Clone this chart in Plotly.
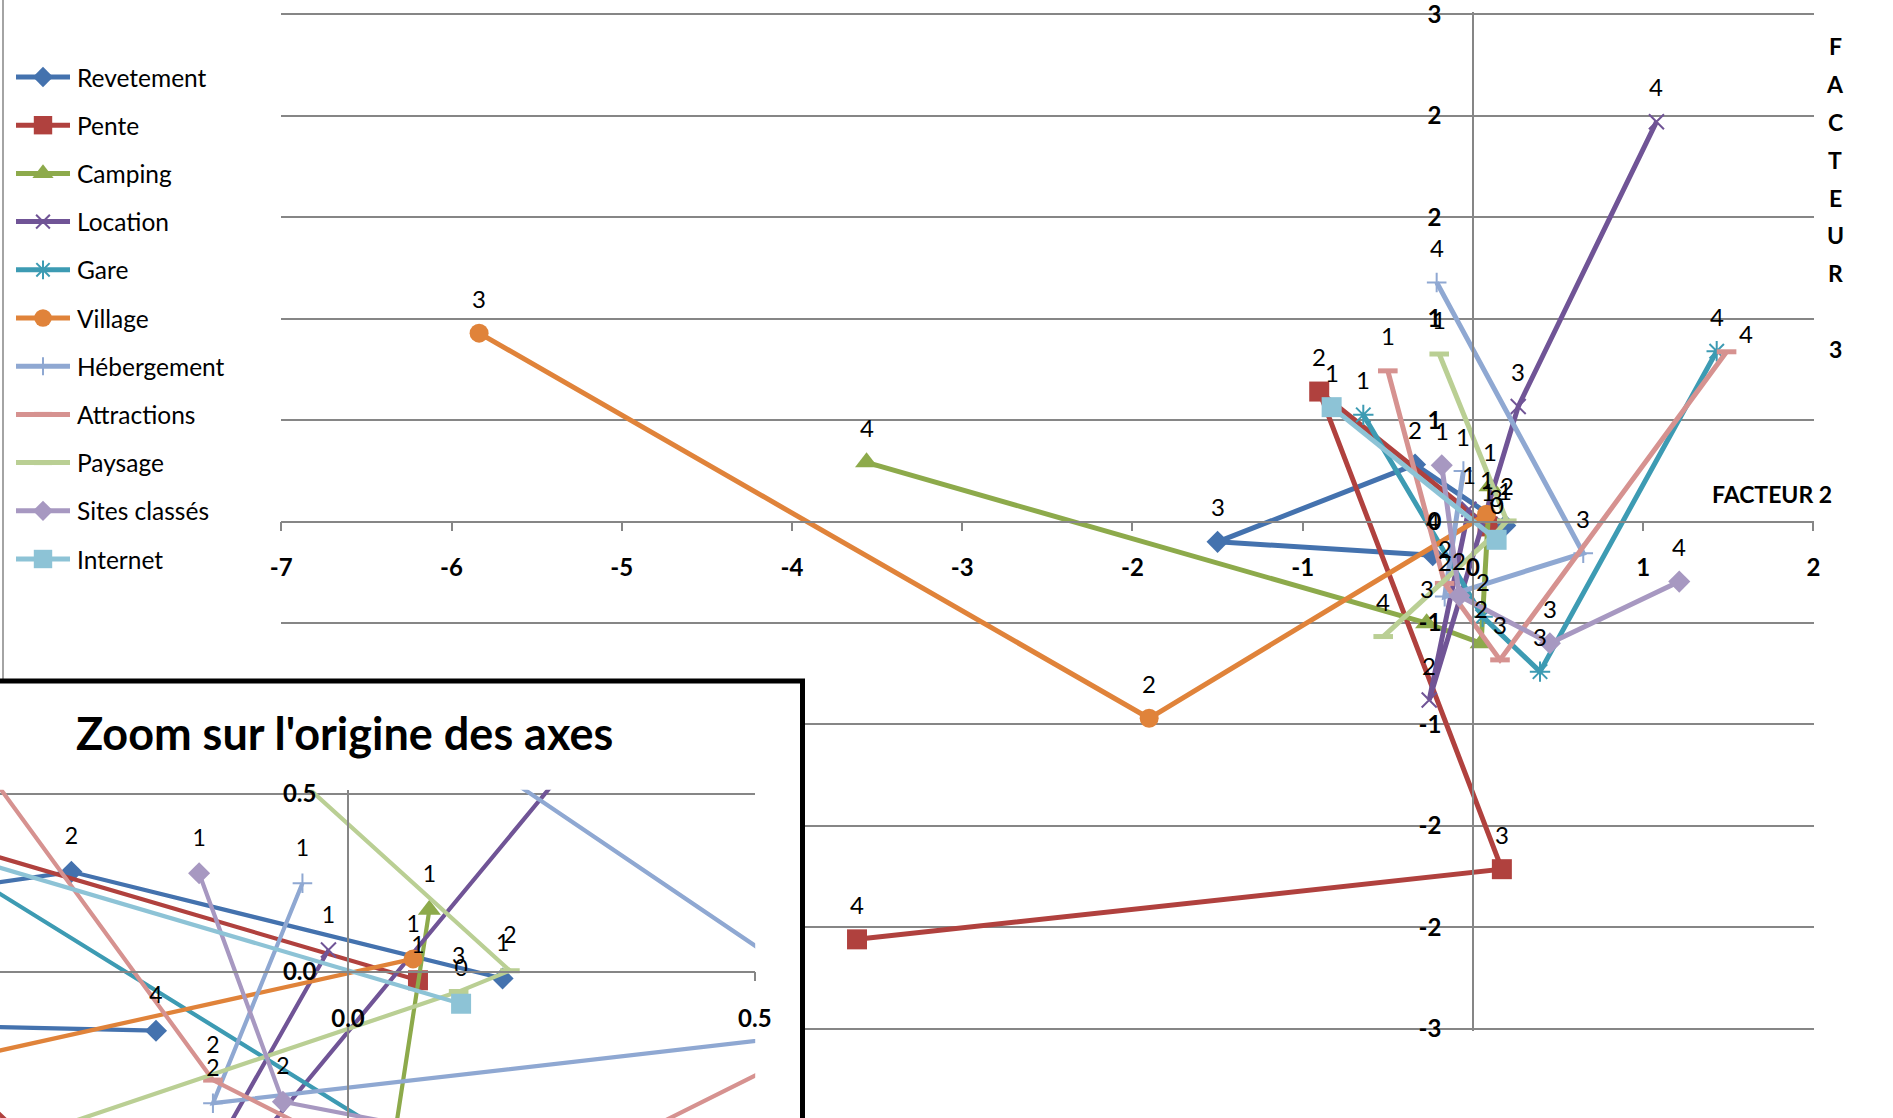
import plotly.graph_objects as go

W, H = 1893, 1118

# ---------------- data ----------------
names = ["Revetement", "Pente", "Camping", "Location", "Gare", "Village",
         "Hébergement", "Attractions", "Paysage", "Sites classés", "Internet"]

revetement_x = [0.190, -0.340, -1.500, -0.236]
revetement_y = [-0.019, 0.281, -0.100, -0.166]
pente_x = [0.086, -0.903, 0.170, -3.618]
pente_y = [-0.024, 0.641, -1.714, -2.060]
camping_x = [0.100, 0.048, -0.272, -3.562]
camping_y = [0.174, -0.600, -0.501, 0.292]
location_x = [-0.024, -0.257, 0.266, 1.078]
location_y = [0.061, -0.880, 0.567, 1.971]
gare_x = [-0.644, 0.057, 0.394, 1.432]
gare_y = [0.526, -0.469, -0.740, 0.840]
village_x = [0.080, -1.902, -5.838]
village_y = [0.036, -0.970, 0.929]
hebergement_x = [-0.056, -0.166, 0.648, -0.213]
hebergement_y = [0.249, -0.370, -0.156, 1.179]
attractions_x = [-0.500, -0.166, 0.159, 1.490]
attractions_y = [0.743, -0.305, -0.682, 0.837]
paysage_x = [-0.198, 0.199, 0.136, -0.527]
paysage_y = [0.826, 0.003, -0.056, -0.567]
sites_x = [-0.183, -0.080, 0.452, 1.212]
sites_y = [0.277, -0.366, -0.600, -0.296]
internet_x = [-0.830, 0.139]
internet_y = [0.564, -0.090]

labels_1234 = ["1", "2", "3", "4"]
village_labels = ["1", "2", "3"]
internet_labels = ["1", "0"]

main_x_ticks = [-7, -6, -5, -4, -3, -2, -1, 0, 1, 2]
main_y_ticks = [-2.5, -2.0, -1.5, -1.0, -0.5, 0.0, 0.5, 1.0, 1.5, 2.0, 2.5]
main_y_ticktext = ["-3", "-2", "-2", "-1", "-1", "0", "1", "1", "2", "2", "3"]
inset_ticks = [0.0, 0.5]
inset_ticktext = ["0.0", "0.5"]

x_axis_title = "FACTEUR 2"
y_axis_title = "FACTEUR 3"
inset_title = "Zoom sur l'origine des axes"

series = [
    (names[0], revetement_x, revetement_y, labels_1234),
    (names[1], pente_x, pente_y, labels_1234),
    (names[2], camping_x, camping_y, labels_1234),
    (names[3], location_x, location_y, labels_1234),
    (names[4], gare_x, gare_y, labels_1234),
    (names[5], village_x, village_y, village_labels),
    (names[6], hebergement_x, hebergement_y, labels_1234),
    (names[7], attractions_x, attractions_y, labels_1234),
    (names[8], paysage_x, paysage_y, labels_1234),
    (names[9], sites_x, sites_y, labels_1234),
    (names[10], internet_x, internet_y, internet_labels),
]

# ---------------- styles ----------------
FONT = "Lato, 'Open Sans', sans-serif"
GRID = "#868686"
colors = {
    "Revetement": "#4472AE", "Pente": "#B0413E", "Camping": "#8DAA4B",
    "Location": "#705496", "Gare": "#3D9BB3", "Village": "#E0833A",
    "Hébergement": "#8FA8D2", "Attractions": "#D69290", "Paysage": "#BACF94",
    "Sites classés": "#A798C1", "Internet": "#8DC3D6",
}
markers = {  # symbol, size, outline width
    "Revetement": ("diamond", 17, 0), "Pente": ("square", 20, 0),
    "Camping": ("triangle-up", 20, 0), "Location": ("x-thin-open", 15, 2),
    "Gare": ("asterisk-open", 17, 2), "Village": ("circle", 19, 0),
    "Hébergement": ("cross-thin-open", 14, 2), "Attractions": ("line-ew-open", 14, 5),
    "Paysage": ("line-ew-open", 14, 5), "Sites classés": ("diamond", 17, 0),
    "Internet": ("square", 20, 0),
}
label_shift_default = (0, 35)
label_shift_override = {("Attractions", "4"): (19, 18)}
LINE_MAIN, LINE_INSET = 5, 4.2
LABEL_SIZE, INSET_LABEL_SIZE, TICK_SIZE = 24, 23, 24

def PX(px):
    return px / W

def PY(py):
    return 1 - py / H

def axis_setup(v0, p0, v1, p1, pad, vertical):
    """range padded by `pad` (data units) and paper domain so v0->p0, v1->p1 (pixels)."""
    scale = (p1 - p0) / (v1 - v0)
    r = [min(v0, v1) - pad, max(v0, v1) + pad]
    pa = p0 + (r[0] - v0) * scale
    pb = p0 + (r[1] - v0) * scale
    if vertical:
        dom = sorted([PY(pa), PY(pb)])
    else:
        dom = sorted([PX(pa), PX(pb)])
    return r, dom

def zero_pos(rng, dom):
    return dom[0] + (0 - rng[0]) / (rng[1] - rng[0]) * (dom[1] - dom[0])

# main plot: x=-7 at 281.3px, x=2 at 1813.4px; y=2.5 at 14.5px, y=-2.5 at 1028.6px
main_xr, main_xdom = axis_setup(-7, 281.3, 2, 1813.4, 0.001, False)
main_yr, main_ydom = axis_setup(2.5, 14.5, -2.5, 1028.6, 0.012, True)

# inset: x=0 at 348px (813.6 px/unit), y=0 at 971.7px (355.4 px/unit); cropped by page
ins_xr = [-348 / 813.6, 0.5005]
ins_xdom = [0, PX(348 + 0.5005 * 813.6)]
ins_yr = [-(H - 971.7) / 355.4, 0.512]
ins_ydom = [0, PY(971.7 - 0.512 * 355.4)]
ins_true = 0.5

BOX_R, BOX_T = 802.5, 681

fig = go.Figure()

# main chart traces
for nm, xs, ys, labs in series:
    sym, sz, lw = markers[nm]
    c = colors[nm]
    fig.add_trace(go.Scatter(
        x=xs, y=ys, mode="lines+markers", name=nm, showlegend=False,
        line=dict(color=c, width=LINE_MAIN),
        marker=dict(symbol=sym, size=sz, color=c, line=dict(color=c, width=lw)),
        xaxis="x", yaxis="y", hoverinfo="skip",
    ))

# cover subplot (white box under the inset)
fig.add_trace(go.Scatter(x=[None], y=[None], xaxis="x2", yaxis="y2",
                         showlegend=False, hoverinfo="skip"))

# inset traces
lab_x, lab_y, lab_t = [], [], []
for nm, xs, ys, labs in series:
    sym, sz, lw = markers[nm]
    c = colors[nm]
    fig.add_trace(go.Scatter(
        x=xs, y=ys, mode="lines+markers", name=nm, showlegend=False,
        line=dict(color=c, width=LINE_INSET),
        marker=dict(symbol=sym, size=sz, color=c, line=dict(color=c, width=lw)),
        xaxis="x3", yaxis="y3", hoverinfo="skip",
    ))
    for x, y, t in zip(xs, ys, labs):
        if abs(x) <= ins_true and abs(y) <= ins_true:
            lab_x.append(x); lab_y.append(y); lab_t.append(t)

fig.add_trace(go.Scatter(
    x=lab_x, y=lab_y, text=lab_t, mode="markers+text", textposition="top center",
    marker=dict(size=33, opacity=0),
    textfont=dict(family=FONT, size=INSET_LABEL_SIZE, color="black"),
    cliponaxis=False, showlegend=False, hoverinfo="skip", xaxis="x3", yaxis="y3",
))

annotations = []

# custom legend (own subplot in pixel units)
LEG_ROW0, LEG_STEP = 77.0, 48.2
for k, (nm, xs, ys, labs) in enumerate(series):
    sym, sz, lw = markers[nm]
    c = colors[nm]
    row = LEG_ROW0 + LEG_STEP * k
    fig.add_trace(go.Scatter(
        x=[16, 70], y=[row, row], mode="lines", line=dict(color=c, width=LINE_MAIN),
        xaxis="x4", yaxis="y4", showlegend=False, hoverinfo="skip"))
    fig.add_trace(go.Scatter(
        x=[43], y=[row], mode="markers",
        marker=dict(symbol=sym, size=sz * 0.92, color=c, line=dict(color=c, width=lw)),
        xaxis="x4", yaxis="y4", showlegend=False, hoverinfo="skip"))
    annotations.append(dict(x=75, y=row, xref="x4", yref="y4", text=nm, showarrow=False,
                            xanchor="left", yanchor="middle",
                            font=dict(family=FONT, size=24.5, color="black")))

# main data labels
for nm, xs, ys, labs in series:
    for x, y, t in zip(xs, ys, labs):
        dx, dy = label_shift_override.get((nm, t), label_shift_default)
        annotations.append(dict(x=x, y=y, xref="x", yref="y", text=t, showarrow=False,
                                xshift=dx, yshift=dy, xanchor="center", yanchor="middle",
                                font=dict(family=FONT, size=LABEL_SIZE, color="black")))

# axis titles
annotations.append(dict(x=PX(1772), y=PY(494), xref="paper", yref="paper",
                        text="<b>%s</b>" % x_axis_title, showarrow=False,
                        xanchor="center", yanchor="middle",
                        font=dict(family=FONT, size=23, color="black")))
for k, ch in enumerate(y_axis_title):
    if ch == " ":
        continue
    annotations.append(dict(x=PX(1835), y=PY(46 + 37.9 * k), xref="paper", yref="paper",
                            text="<b>%s</b>" % ch, showarrow=False,
                            xanchor="center", yanchor="middle",
                            font=dict(family=FONT, size=23, color="black")))
annotations.append(dict(x=PX(344), y=PY(733), xref="paper", yref="paper",
                        text="<b>%s</b>" % inset_title, showarrow=False,
                        xanchor="center", yanchor="middle",
                        font=dict(family=FONT, size=45, color="black")))

tickfont = dict(family=FONT, size=TICK_SIZE, color="black", weight="bold")

fig.update_layout(
    width=W, height=H, autosize=False,
    margin=dict(l=0, r=0, t=0, b=0, pad=0, autoexpand=False),
    paper_bgcolor="white", plot_bgcolor="white",
    font=dict(family=FONT, color="black"),
    showlegend=False,
    xaxis=dict(domain=main_xdom, range=main_xr, anchor="free",
               position=zero_pos(main_yr, main_ydom),
               showgrid=False, zeroline=False, showline=True, linecolor=GRID, linewidth=1.5,
               tickvals=main_x_ticks, ticktext=[str(v) for v in main_x_ticks],
               ticks="outside", ticklen=9, tickwidth=1.5, tickcolor=GRID,
               tickfont=tickfont, ticklabelstandoff=16, ticklabeloverflow="allow"),
    yaxis=dict(domain=main_ydom, range=main_yr, anchor="free",
               position=zero_pos(main_xr, main_xdom),
               showgrid=True, gridcolor=GRID, gridwidth=1.5, zeroline=False,
               showline=True, linecolor=GRID, linewidth=1.5,
               tickvals=main_y_ticks, ticktext=main_y_ticktext, ticks="",
               tickfont=tickfont, ticklabelstandoff=26, ticklabeloverflow="allow"),
    xaxis2=dict(domain=[0, PX(BOX_R)], range=[0, 1], anchor="y2", visible=False),
    yaxis2=dict(domain=[0, PY(BOX_T)], range=[0, 1], anchor="x2", visible=False),
    xaxis3=dict(domain=ins_xdom, range=ins_xr, anchor="free",
                position=zero_pos(ins_yr, ins_ydom),
                showgrid=False, zeroline=False, showline=True, linecolor=GRID, linewidth=1.5,
                tickvals=inset_ticks, ticktext=inset_ticktext,
                ticks="outside", ticklen=9, tickwidth=1.5, tickcolor=GRID,
                tickfont=tickfont, ticklabelstandoff=17, ticklabeloverflow="allow"),
    yaxis3=dict(domain=ins_ydom, range=ins_yr, anchor="free",
                position=zero_pos(ins_xr, ins_xdom),
                showgrid=True, gridcolor=GRID, gridwidth=1.5, zeroline=False,
                showline=True, linecolor=GRID, linewidth=1.5,
                tickvals=inset_ticks, ticktext=inset_ticktext, ticks="",
                tickfont=tickfont, ticklabelstandoff=26, ticklabeloverflow="allow"),
    xaxis4=dict(domain=[0, PX(270)], range=[0, 270], anchor="y4", visible=False),
    yaxis4=dict(domain=[PY(600), 1], range=[600, 0], anchor="x4", visible=False),
    annotations=annotations,
    shapes=[
        dict(type="line", xref="paper", yref="paper", x0=PX(3), x1=PX(3),
             y0=1.01, y1=PY(BOX_T), line=dict(color=GRID, width=1.5), layer="above"),
        dict(type="rect", xref="paper", yref="paper", x0=-0.01, x1=PX(BOX_R),
             y0=PY(BOX_T), y1=-0.02, line=dict(color="black", width=5),
             fillcolor="rgba(0,0,0,0)", layer="above"),
    ],
)

fig.write_html("out.html", config={"displayModeBar": False},
               post_script="document.body.style.margin='0px';"
                           "document.body.style.overflow='hidden';")
